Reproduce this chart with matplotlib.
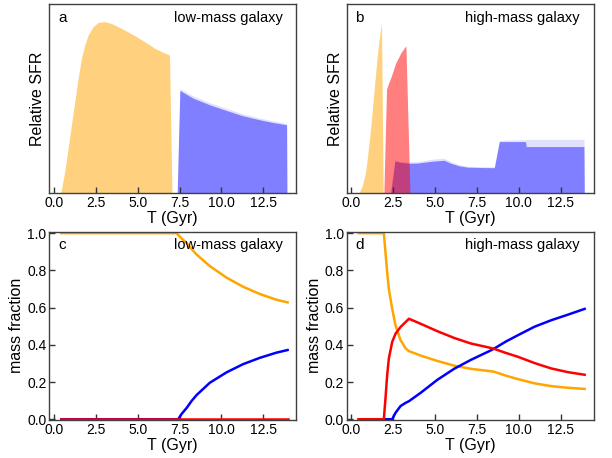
import numpy as np
import matplotlib
matplotlib.use("Agg")
import matplotlib.pyplot as plt

plt.rcParams['font.family'] = ['Liberation Sans', 'DejaVu Sans']

# ---- panel a: low-mass SFR ----
a_old_t = [0.40, 0.64, 0.84, 1.04, 1.24, 1.44, 1.64, 1.84, 2.04, 2.34, 2.64, 3.03,
           3.43, 4.03, 4.53, 5.03, 5.53, 6.02, 6.50, 6.90, 7.05]
a_old_sfr = [0.0, 0.126, 0.262, 0.398, 0.534, 0.670, 0.786, 0.864, 0.922, 0.970, 0.995, 0.999,
             0.989, 0.960, 0.934, 0.906, 0.876, 0.844, 0.822, 0.805, 0.0]
a_young_t = [7.36, 7.52, 8.31, 9.31, 10.31, 11.30, 12.30, 13.10, 13.90, 13.92]
a_young_sfr = [0.0, 0.599, 0.554, 0.515, 0.482, 0.451, 0.428, 0.412, 0.399, 0.0]
a_young_fuzz = [0.0, 0.610, 0.567, 0.528, 0.494, 0.462, 0.438, 0.421, 0.407, 0.0]

# ---- panel b: high-mass SFR ----
b_old_t = [0.44, 0.64, 0.84, 0.94, 1.04, 1.14, 1.24, 1.34, 1.44, 1.54, 1.64, 1.74, 1.80, 1.90]
b_old_sfr = [0.0, 0.040, 0.120, 0.194, 0.280, 0.369, 0.475, 0.582, 0.690, 0.795, 0.880, 0.951, 0.993, 0.0]
b_mid_t = [1.94, 2.10, 2.20, 2.34, 2.50, 2.64, 2.80, 2.94, 3.10, 3.26, 3.50]
b_mid_sfr = [0.0, 0.605, 0.635, 0.669, 0.715, 0.757, 0.787, 0.815, 0.838, 0.859, 0.0]
b_young_t = [2.34, 2.60, 2.94, 3.44, 3.94, 4.44, 4.94, 5.54, 5.94, 6.44, 6.94, 7.74, 8.54,
             8.84, 10.40, 10.45, 13.90, 13.92]
b_young_sfr = [0.0, 0.188, 0.180, 0.175, 0.176, 0.182, 0.188, 0.192, 0.175, 0.160, 0.152, 0.150, 0.149,
               0.301, 0.301, 0.272, 0.272, 0.0]
b_young_fuzz = [0.0, 0.195, 0.186, 0.182, 0.184, 0.192, 0.200, 0.204, 0.184, 0.166, 0.158, 0.155, 0.154,
                0.308, 0.312, 0.314, 0.314, 0.0]

# ---- panel c: low-mass mass fractions ----
c_t = [0.44, 7.32, 7.62, 7.92, 8.22, 8.52, 9.31, 10.31, 11.30, 12.30, 13.30, 13.96]
c_old = [1.0, 1.0, 0.972, 0.947, 0.915, 0.885, 0.823, 0.761, 0.712, 0.673, 0.642, 0.628]
c_blue_t = [0.44, 7.42, 7.62, 7.92, 8.22, 8.52, 9.31, 10.31, 11.30, 12.30, 13.30, 13.96]
c_young = [0.0, 0.0, 0.028, 0.060, 0.098, 0.130, 0.196, 0.252, 0.296, 0.330, 0.358, 0.372]
c_mid = [0.0] * len(c_t)

# ---- panel d: high-mass mass fractions ----
d_t = [0.44, 1.94, 2.04, 2.14, 2.24, 2.44, 2.64, 2.94, 3.24, 3.44, 4.14, 5.14, 6.14, 7.14,
       8.24, 8.54, 9.24, 9.94, 10.94, 11.94, 12.94, 13.94]
d_old = [1.0, 1.0, 0.894, 0.788, 0.699, 0.593, 0.504, 0.425, 0.381, 0.366, 0.342, 0.313, 0.288, 0.271,
         0.259, 0.255, 0.234, 0.216, 0.193, 0.178, 0.169, 0.163]
d_mid = [0.0, 0.0, 0.115, 0.239, 0.327, 0.416, 0.460, 0.496, 0.522, 0.540, 0.513, 0.473, 0.437, 0.407,
         0.385, 0.378, 0.356, 0.336, 0.302, 0.273, 0.253, 0.239]
d_young = [0.0, 0.0, 0.0, 0.0, 0.0, 0.0, 0.035, 0.071, 0.088, 0.097, 0.142, 0.212, 0.271, 0.319,
           0.366, 0.380, 0.418, 0.451, 0.497, 0.532, 0.562, 0.593]

xticks = [0.0, 2.5, 5.0, 7.5, 10.0, 12.5]
yticks = [0.0, 0.2, 0.4, 0.6, 0.8, 1.0]

fig = plt.figure(figsize=(6.12, 4.58), dpi=100)
ax_a = fig.add_axes([0.0806, 0.578, 0.4033, 0.4125])
ax_b = fig.add_axes([0.5665, 0.578, 0.4033, 0.4125])
ax_c = fig.add_axes([0.0806, 0.083, 0.4033, 0.4112])
ax_d = fig.add_axes([0.5665, 0.083, 0.4033, 0.4112])


def style(ax, letter, title, ylabel, show_y):
    ax.set_xlim(-0.28, 14.47)
    ax.set_xticks(xticks)
    ax.set_xticklabels(['%.1f' % v for v in xticks])
    ax.set_xlabel('T (Gyr)', fontsize=11.5, labelpad=1)
    ax.set_ylabel(ylabel, fontsize=11.5, labelpad=2 if show_y else 3)
    ax.tick_params(direction='in', length=4, width=1, labelsize=10, pad=2,
                   color='0.2')
    if show_y:
        ax.set_ylim(-0.004, 1.008)
        ax.set_yticks(yticks)
        ax.set_yticklabels(['%.1f' % v for v in yticks])
    else:
        ax.set_ylim(0, 1.1)
        ax.set_yticks([])
    for s in ax.spines.values():
        s.set_color('0.25')
        s.set_linewidth(1.0)
    ax.text(0.035, 0.93, letter, transform=ax.transAxes, fontsize=11,
            ha='left', va='center')
    ax.text(0.945, 0.93, title, transform=ax.transAxes, fontsize=10.5,
            ha='right', va='center')


# panel a
ax_a.fill_between(a_old_t, 0, a_old_sfr, color='orange', alpha=0.5, lw=0)
ax_a.fill_between(a_young_t, a_young_sfr, a_young_fuzz, color='blue', alpha=0.12, lw=0)
ax_a.fill_between(a_young_t, 0, a_young_sfr, color='blue', alpha=0.5, lw=0)
style(ax_a, 'a', 'low-mass galaxy', 'Relative SFR', False)

# panel b
ax_b.fill_between(b_old_t, 0, b_old_sfr, color='orange', alpha=0.5, lw=0)
ax_b.fill_between(b_young_t, b_young_sfr, b_young_fuzz, color='blue', alpha=0.12, lw=0)
ax_b.fill_between(b_young_t, 0, b_young_sfr, color='blue', alpha=0.5, lw=0)
ax_b.fill_between(b_mid_t, 0, b_mid_sfr, color='red', alpha=0.5, lw=0)
style(ax_b, 'b', 'high-mass galaxy', 'Relative SFR', False)

# panel c
ax_c.plot(c_t, c_old, color='orange', lw=1.8)
ax_c.plot(c_blue_t, c_young, color='blue', lw=1.8)
ax_c.plot(c_t, c_mid, color='red', lw=1.8)
style(ax_c, 'c', 'low-mass galaxy', 'mass fraction', True)

# panel d
ax_d.plot(d_t, d_old, color='orange', lw=1.8)
ax_d.plot(d_t, d_young, color='blue', lw=1.8)
ax_d.plot(d_t, d_mid, color='red', lw=1.8)
style(ax_d, 'd', 'high-mass galaxy', 'mass fraction', True)

fig.savefig('out.png', dpi=100)
